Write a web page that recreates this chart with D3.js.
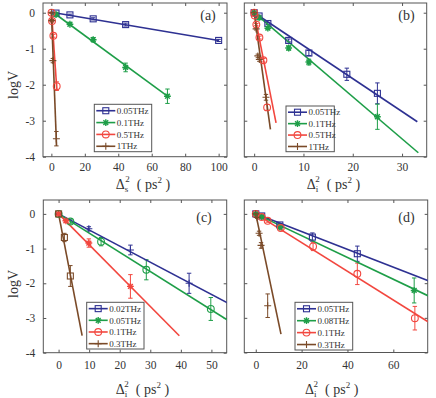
<!DOCTYPE html>
<html>
<head>
<meta charset="utf-8">
<script src="https://cdn.jsdelivr.net/npm/d3@7"></script>
<style>
  body { margin: 0; background: #fff; }
  text { font-family: "Liberation Serif", "DejaVu Serif", serif; fill: #333; }
</style>
</head>
<body>
<svg id="chart" width="436" height="398"></svg>
<script>
// ---- tick values ----
var yTicks = [0, -1, -2, -3, -4];
var aXTicks = [0, 20, 40, 60, 80, 100];
var bXTicks = [0, 10, 20, 30];
var cXTicks = [0, 10, 20, 30, 40, 50];
var dXTicks = [0, 20, 40, 60];

// ---- legend labels ----
var aLabels = ["0.05THz", "0.1THz", "0.5THz", "1THz"];
var bLabels = ["0.05THz", "0.1THz", "0.5THz", "1THz"];
var cLabels = ["0.02THz", "0.05THz", "0.1THz", "0.3THz"];
var dLabels = ["0.05THz", "0.08THz", "0.1THz", "0.3THz"];

// ---- panel (a) ----
var a1x = [2.78, 11.1, 25, 44.4, 100],   a1y = [-0.01, -0.06, -0.17, -0.33, -0.77], a1e = [0.01, 0.02, 0.03, 0.04, 0.03];
var a2x = [2.78, 11.1, 25, 44.4, 69.4],  a2y = [-0.05, -0.32, -0.75, -1.52, -2.32], a2e = [0.02, 0.03, 0.06, 0.12, 0.2];
var a3x = [0.1, 0.4, 1.2, 3.2],          a3y = [0, -0.23, -0.64, -2.04],             a3e = [0.02, 0.03, 0.04, 0.12];
var a4x = [0.03, 0.25, 0.9, 3.0],        a4y = [0, -0.22, -1.33, -3.5],              a4e = [0.01, 0.03, 0.06, 0.2];
var aFitX = [100, 69.4, 3.3, 3.1];
var aFitY = [-0.77, -2.32, -2.15, -3.7];

// ---- panel (b) ----
var b1x = [0, 1.0, 2.78, 7.0, 11.1, 18.8, 25],  b1y = [0, -0.09, -0.3, -0.77, -1.12, -1.71, -2.24], b1e = [0.02, 0.02, 0.03, 0.04, 0.07, 0.17, 0.29];
var b2x = [0, 1.0, 2.78, 7.0, 11.1, 25],        b2y = [0, -0.14, -0.43, -0.98, -1.37, -2.89],        b2e = [0.02, 0.03, 0.04, 0.06, 0.08, 0.35];
var b3x = [0, 0.11, 0.44, 1.07, 1.88, 2.63],    b3y = [0, -0.08, -0.33, -0.69, -1.32, -2.63],        b3e = [0.02, 0.02, 0.03, 0.04, 0.05, 0.08];
var b4x = [0, 0.4, 0.75, 1.05, 2.4],            b4y = [0, -0.45, -1.2, -1.3, -2.35],                 b4e = [0.02, 0.03, 0.05, 0.05, 0.08];
var bFitX = [33.1, 33.3, 4.44, 3.3];
var bFitY = [-3.03, -3.89, -3.06, -3.24];

// ---- panel (c) ----
var c1x = [0, 9.9, 23.5, 42.7],        c1y = [0, -0.43, -1.04, -2.0],          c1e = [0.02, 0.06, 0.14, 0.29];
var c2x = [0, 3.85, 13.9, 28.7, 49.8], c2y = [0, -0.22, -0.8, -1.61, -2.74],   c2e = [0.02, 0.05, 0.12, 0.29, 0.33];
var c3x = [0, 2.4, 9.9, 23.5],         c3y = [0, -0.2, -0.84, -2.09],          c3e = [0.02, 0.04, 0.12, 0.34];
var c4x = [0, 1.9, 3.85],              c4y = [0, -0.68, -1.79],                c4e = [0.02, 0.12, 0.3];
var cFitX = [56, 56, 39.5, 7.7];
var cFitY = [-2.6, -3.1, -3.51, -3.51];

// ---- panel (d) ----
var d1x = [0, 2.6, 10.5, 24.7, 44.3],              d1y = [0, -0.06, -0.32, -0.67, -1.15],             d1e = [0.02, 0.03, 0.04, 0.12, 0.22];
var d2x = [0, 2.6, 10.5, 69.1],                    d2y = [0, -0.08, -0.38, -2.21],                    d2e = [0.02, 0.03, 0.05, 0.36];
var d3x = [0, 2.6, 5.2, 10.9, 25, 44.3, 69.4],     d3y = [0, -0.09, -0.2, -0.41, -0.94, -1.73, -3.01], d3e = [0.02, 0.03, 0.04, 0.05, 0.12, 0.31, 0.34];
var d4x = [0, 0.6, 1.45, 2.3, 5.2],                d4y = [0, -0.1, -0.56, -0.91, -2.65],              d4e = [0.02, 0.03, 0.06, 0.08, 0.34];
var dFitX = [76, 76, 76, 11];
var dFitY = [-1.95, -2.39, -3.15, -3.47];

var colors = ["#2e3192", "#1e9e48", "#f2473f", "#7a4a28"];
var frameColor = "#555";

function pts(xs, ys, es) {
  return xs.map(function(v, i) { return {x: v, y: ys[i], e: es[i]}; });
}

var panels = [
  {tag: "(a)", tagPos: [208, 20], box: [43, 3, 227, 156.7], xDom: [-5, 105], yDom: [-4, 0.27],
   xTicks: aXTicks, sub: "s", xLab: [143, 189], yLab: [13, 85], tickPad: 6,
   series: [pts(a1x, a1y, a1e), pts(a2x, a2y, a2e), pts(a3x, a3y, a3e), pts(a4x, a4y, a4e)],
   fitX: aFitX, fitY: aFitY, labels: aLabels,
   marks: ["square", "star", "circle", "plus"], legMarks: ["square", "star", "circle", "plus"],
   legend: [94.3, 104.3, 57.4, 47.4]},
  {tag: "(b)", tagPos: [406.5, 20], box: [244.3, 3, 426.7, 156.7], xDom: [-2, 35], yDom: [-4, 0.27],
   xTicks: bXTicks, sub: "i", xLab: [333.5, 189], yLab: null, tickPad: 6,
   series: [pts(b1x, b1y, b1e), pts(b2x, b2y, b2e), pts(b3x, b3y, b3e), pts(b4x, b4y, b4e)],
   fitX: bFitX, fitY: bFitY, labels: bLabels,
   marks: ["square", "star", "circle", "plus"], legMarks: ["square", "star", "circle", "plus"],
   legend: [286, 106, 48.3, 45.7]},
  {tag: "(c)", tagPos: [204, 221.5], box: [43.3, 200, 226.7, 352.7], xDom: [-5, 55], yDom: [-4, 0.4],
   xTicks: cXTicks, sub: "i", xLab: [142.5, 394], yLab: [13, 284], tickPad: 8,
   series: [pts(c1x, c1y, c1e), pts(c2x, c2y, c2e), pts(c3x, c3y, c3e), pts(c4x, c4y, c4e)],
   fitX: cFitX, fitY: cFitY, labels: cLabels,
   marks: ["plus", "circle", "star", "square"], legMarks: ["square", "star", "circle", "plus"],
   legend: [86.7, 302.3, 57.3, 46.7]},
  {tag: "(d)", tagPos: [406.5, 221.5], box: [244.3, 200, 427.7, 352.5], xDom: [-5, 75], yDom: [-4, 0.4],
   xTicks: dXTicks, sub: "i", xLab: [331.7, 394], yLab: null, tickPad: 8,
   series: [pts(d1x, d1y, d1e), pts(d2x, d2y, d2e), pts(d3x, d3y, d3e), pts(d4x, d4y, d4e)],
   fitX: dFitX, fitY: dFitY, labels: dLabels,
   marks: ["square", "star", "circle", "plus"], legMarks: ["square", "star", "circle", "plus"],
   legend: [295, 302.3, 57.7, 47.7]}
];

var svg = d3.select("#chart");

function marker(g, type, cx, cy, color) {
  if (type === "square") {
    g.append("rect").attr("x", cx - 3).attr("y", cy - 3).attr("width", 6).attr("height", 6)
      .attr("fill", "none").attr("stroke", color).attr("stroke-width", 1.1);
  } else if (type === "circle") {
    g.append("circle").attr("cx", cx).attr("cy", cy).attr("r", 3.4)
      .attr("fill", "none").attr("stroke", color).attr("stroke-width", 1.1);
  } else if (type === "plus") {
    g.append("path").attr("d", "M" + (cx - 3.5) + "," + cy + "H" + (cx + 3.5) + "M" + cx + "," + (cy - 3.5) + "V" + (cy + 3.5))
      .attr("stroke", color).attr("stroke-width", 1.1).attr("fill", "none");
  } else if (type === "star") {
    var r = 3.4, q = 2.4;
    g.append("path").attr("d",
        "M" + (cx - r) + "," + cy + "H" + (cx + r) +
        "M" + cx + "," + (cy - r) + "V" + (cy + r) +
        "M" + (cx - q) + "," + (cy - q) + "L" + (cx + q) + "," + (cy + q) +
        "M" + (cx - q) + "," + (cy + q) + "L" + (cx + q) + "," + (cy - q))
      .attr("stroke", color).attr("stroke-width", 1.4).attr("fill", "none");
  }
}

panels.forEach(function(p, pi) {
  var L = p.box[0], T = p.box[1], R = p.box[2], B = p.box[3];
  var x = d3.scaleLinear().domain(p.xDom).range([L, R]);
  var y = d3.scaleLinear().domain(p.yDom).range([B, T]);
  var g = svg.append("g");

  var clipId = "clip" + pi;
  svg.append("clipPath").attr("id", clipId).append("rect")
    .attr("x", L).attr("y", T).attr("width", R - L).attr("height", B - T);

  // axes, MATLAB style: inward ticks on all four sides
  var fmt = function(d) { return String(d); };
  var ax = g.append("g").attr("transform", "translate(0," + B + ")")
    .call(d3.axisBottom(x).tickValues(p.xTicks).tickSize(-3).tickPadding(p.tickPad).tickFormat(fmt));
  var axT = g.append("g").attr("transform", "translate(0," + T + ")")
    .call(d3.axisTop(x).tickValues(p.xTicks).tickSize(-3).tickFormat(""));
  var ay = g.append("g").attr("transform", "translate(" + L + ",0)")
    .call(d3.axisLeft(y).tickValues(yTicks).tickSize(-3).tickPadding(8).tickFormat(p.yLab ? fmt : ""));
  var ayR = g.append("g").attr("transform", "translate(" + R + ",0)")
    .call(d3.axisRight(y).tickValues(yTicks).tickSize(-3).tickFormat(""));
  [ax, axT, ay, ayR].forEach(function(a) {
    a.select(".domain").remove();
    a.selectAll("line").attr("stroke", frameColor);
    a.selectAll("text").style("font-size", "11.5px").attr("fill", "#333")
      .style("font-family", "'Liberation Serif', serif");
  });
  if (!p.yLab) ay.selectAll("text").remove();

  g.append("rect").attr("x", L).attr("y", T).attr("width", R - L).attr("height", B - T)
    .attr("fill", "none").attr("stroke", frameColor).attr("stroke-width", 1);

  var plot = g.append("g").attr("clip-path", "url(#" + clipId + ")");

  // error bars + markers
  p.series.forEach(function(s, si) {
    var col = colors[si];
    s.forEach(function(d) {
      var cx = x(d.x), y0 = y(d.y + d.e), y1 = y(d.y - d.e);
      plot.append("path")
        .attr("d", "M" + cx + "," + y0 + "V" + y1 +
                   "M" + (cx - 2.2) + "," + y0 + "H" + (cx + 2.2) +
                   "M" + (cx - 2.2) + "," + y1 + "H" + (cx + 2.2))
        .attr("stroke", col).attr("stroke-width", 1).attr("fill", "none");
    });
  });

  // fitted lines from first point to end value
  var line = d3.line().x(function(d) { return x(d[0]); }).y(function(d) { return y(d[1]); });
  p.series.forEach(function(s, si) {
    plot.append("path")
      .datum([[s[0].x, s[0].y], [p.fitX[si], p.fitY[si]]])
      .attr("d", line)
      .attr("stroke", colors[si]).attr("stroke-width", 1.6).attr("fill", "none");
  });

  p.series.forEach(function(s, si) {
    s.forEach(function(d) { marker(plot, p.marks[si], x(d.x), y(d.y), colors[si]); });
  });

  // legend
  var lg = g.append("g");
  var lx = p.legend[0], ly = p.legend[1], lw = p.legend[2], lh = p.legend[3];
  lg.append("rect").attr("x", lx).attr("y", ly).attr("width", lw).attr("height", lh)
    .attr("fill", "#fff").attr("stroke", frameColor).attr("stroke-width", 1);
  var rowH = lh / 4;
  p.labels.forEach(function(lab, i) {
    var ry = ly + rowH * (i + 0.5) + 0.5;
    lg.append("line").attr("x1", lx + 2).attr("x2", lx + 21).attr("y1", ry).attr("y2", ry)
      .attr("stroke", colors[i]).attr("stroke-width", 1.6);
    marker(lg, p.legMarks[i], lx + 11.5, ry, colors[i]);
    lg.append("text").attr("x", lx + 22.5).attr("y", ry + 3.2)
      .style("font-size", "9px").text(lab);
  });

  // panel tag
  g.append("text").attr("x", p.tagPos[0]).attr("y", p.tagPos[1]).attr("text-anchor", "middle")
    .style("font-size", "14px").text(p.tag);

  // x label: Δ_sub^2 ( ps^2 )
  var t = g.append("text").attr("x", p.xLab[0]).attr("y", p.xLab[1])
    .attr("text-anchor", "middle").style("font-size", "14px");
  t.append("tspan").text("Δ");
  t.append("tspan").attr("dy", 3).style("font-size", "9px").text(p.sub);
  t.append("tspan").attr("dx", -3).attr("dy", -10).style("font-size", "9px").text("2");
  t.append("tspan").attr("dy", 7).text("\u00a0\u00a0(\u00a0ps");
  t.append("tspan").attr("dy", -6).style("font-size", "9px").text("2");
  t.append("tspan").attr("dy", 6).text("\u00a0)");

  // y label
  if (p.yLab) {
    g.append("text").attr("transform", "translate(" + p.yLab[0] + "," + p.yLab[1] + ") rotate(-90)")
      .attr("text-anchor", "middle").attr("dy", "0.35em").style("font-size", "14px").text("logV");
  }
});
</script>
</body>
</html>
